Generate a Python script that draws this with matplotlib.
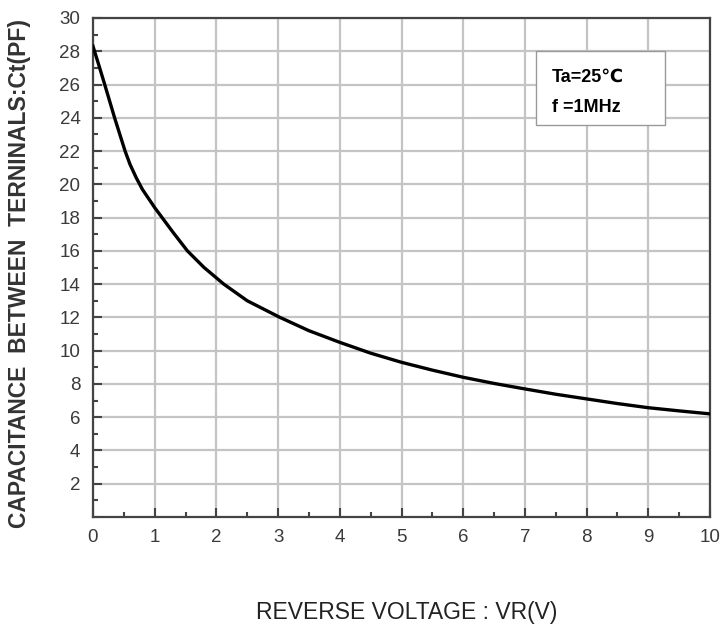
import matplotlib.pyplot as plt
from matplotlib.patches import Rectangle
from matplotlib.ticker import MultipleLocator

plt.rcParams["font.family"] = ["Liberation Sans", "DejaVu Sans"]

# reverse voltage (V) and capacitance (pF)
voltage = [0, 0.1, 0.19, 0.35, 0.52, 0.6, 0.7, 0.8, 0.9, 1.0, 1.12, 1.3, 1.53, 1.8, 2.12,
           2.5, 3.03, 3.5, 4, 4.5, 5, 5.5, 6, 6.5, 7, 7.5, 8, 8.5, 9, 9.5, 10]
capacitance = [28.3, 27.1, 26, 24, 22, 21.2, 20.4, 19.7, 19.15, 18.6, 18, 17.1, 16, 15.0,
               14, 13.0, 12, 11.2, 10.5, 9.85, 9.3, 8.83, 8.4, 8.03, 7.7, 7.38, 7.1, 6.82,
               6.57, 6.38, 6.2]

x_ticks = list(range(0, 11))
y_ticks = list(range(2, 31, 2))

W, H = 721, 633
fig = plt.figure(figsize=(W / 100, H / 100), dpi=100)
ax = fig.add_axes([93 / W, 1 - 517 / H, (710 - 93) / W, (517 - 18) / H])

ax.plot(voltage, capacitance, color="black", linewidth=2.4, zorder=3)

ax.set_xlim(0, 10)
ax.set_ylim(0, 30)
ax.set_xticks(x_ticks)
ax.set_yticks(y_ticks)
ax.xaxis.set_minor_locator(MultipleLocator(0.5))
ax.yaxis.set_minor_locator(MultipleLocator(1))
ax.grid(True, which="major", color="#c4c4c4", linewidth=1.6)
ax.set_axisbelow(True)

ax.tick_params(which="both", direction="in", top=False, right=False,
               color="#444444", width=1.5)
ax.tick_params(which="major", length=6.5, labelsize=13.5, labelcolor="#3a3a3a", pad=9)
ax.tick_params(which="minor", length=3.5)
for s in ax.spines.values():
    s.set_color("#444444")
    s.set_linewidth(1.6)

# condition box
ax.add_patch(Rectangle((536 / W, 1 - 125 / H), (665 - 536) / W, (125 - 51) / H,
                       transform=fig.transFigure, facecolor="white",
                       edgecolor="#999999", linewidth=1.0, zorder=4))
fig.text(552 / W, 1 - 77 / H, "Ta=25℃", fontsize=13, fontweight="bold",
         va="center", ha="left", zorder=5)
fig.text(552 / W, 1 - 107 / H, "f =1MHz", fontsize=13, fontweight="bold",
         va="center", ha="left", zorder=5)

fig.text(20 / W, 1 - 274 / H, "CAPACITANCE  BETWEEN  TERNINALS:Ct(PF)",
         rotation=90, fontsize=16.5, fontweight="bold", color="#333333",
         ha="center", va="center")
fig.text(407 / W, 1 - 613 / H, "REVERSE VOLTAGE : VR(V)", fontsize=16.5,
         color="#222222", ha="center", va="center")

fig.savefig("out.png", dpi=100)
